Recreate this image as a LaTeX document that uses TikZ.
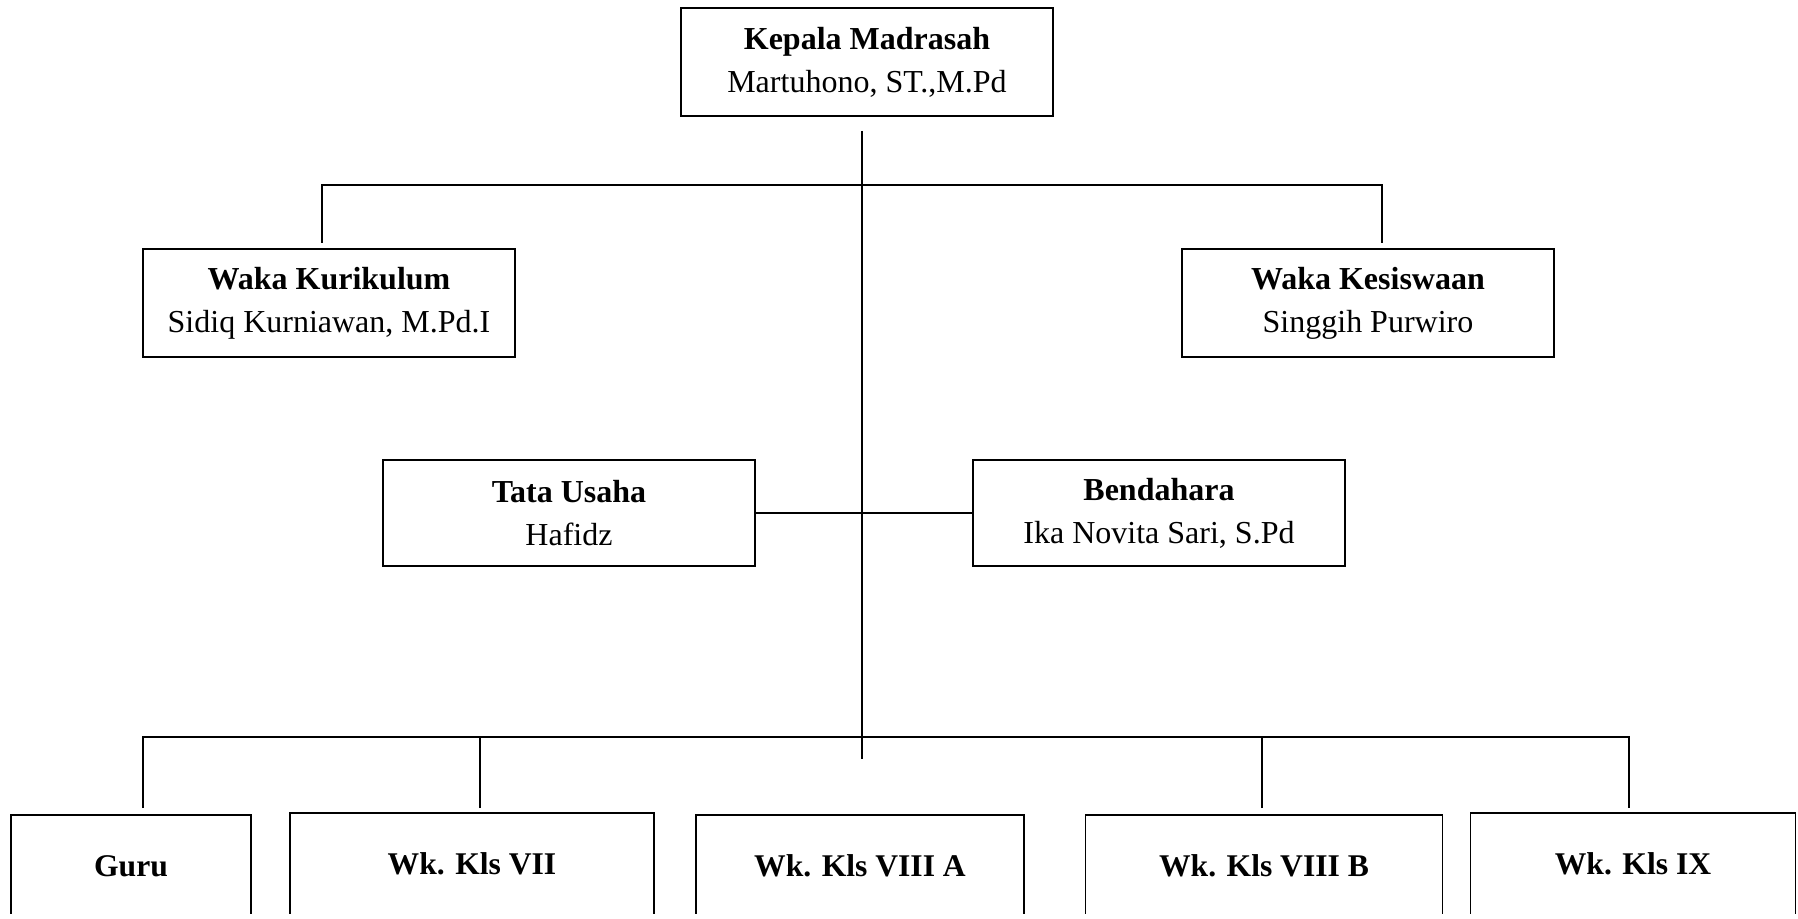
\documentclass[tikz,border=0pt]{standalone}
\usepackage{fontspec}
\setmainfont{Liberation Serif}
\usetikzlibrary{calc}

\begin{document}
\begin{tikzpicture}[x=0.5pt, y=-0.5pt, line width=0.8pt,
    kotak/.style={draw, rectangle, align=center, inner sep=0pt, outer sep=0pt,
        minimum width=186pt, minimum height=54pt, font=\fontsize{16}{21.5}\selectfont},
    kotakbawah/.style={kotak, minimum height=51pt, font=\fontsize{15.8}{21.5}\selectfont\bfseries}]
    \useasboundingbox (0,0) rectangle (1798,919);
    \clip (0,0) rectangle (1798,913);

    \node[kotak] (kepala) at (867,62) {\textbf{Kepala Madrasah}\\Martuhono, ST.,M.Pd};
    \node[kotak] (kurikulum) at (329,303) {\textbf{Waka Kurikulum}\\Sidiq Kurniawan, M.Pd.I};
    \node[kotak] (kesiswaan) at (1368,303) {\textbf{Waka Kesiswaan}\\Singgih Purwiro};
    \node[kotak, minimum height=53pt] (tatausaha) at (569,513) {\textbf{Tata Usaha}\\Hafidz};
    \node[kotak, minimum height=53pt] (bendahara) at (1159,513) {\textbf{Bendahara}\\Ika Novita Sari, S.Pd};

    \node[kotakbawah, minimum width=120pt] (guru) at (131,866) {Guru};
    \node[kotakbawah, minimum width=182pt] (kls7) at (472,864) {Wk. Kls VII};
    \node[kotakbawah, minimum width=164pt] (kls8a) at (860,866) {Wk. Kls VIII A};
    \node[kotakbawah, minimum width=178.5pt] (kls8b) at (1264,866) {Wk. Kls VIII B};
    \node[kotakbawah, minimum width=162.5pt] (kls9) at (1633,864) {Wk. Kls IX};

    % garis komando
    \coordinate (pusatatas) at (862,131);
    \coordinate (pusatbawah) at (862,759);
    \coordinate (cabangatas) at (862,185);
    \coordinate (cabangbawah) at (862,737);
    \draw (pusatatas) -- (pusatbawah);
    \draw ($(kurikulum.north)+(-7,-6)$) |- (cabangatas) -| ($(kesiswaan.north)+(14,-6)$);
    \draw (tatausaha) -- (bendahara);
    \draw ($(guru.north)+(12,-7)$) |- (cabangbawah) -| ($(kls9.north)+(-4,-5)$);
    \draw ($(kls7.north)+(8,-5)$) |- (cabangbawah);
    \draw ($(kls8b.north)+(-2,-7)$) |- (cabangbawah);
\end{tikzpicture}
\end{document}
